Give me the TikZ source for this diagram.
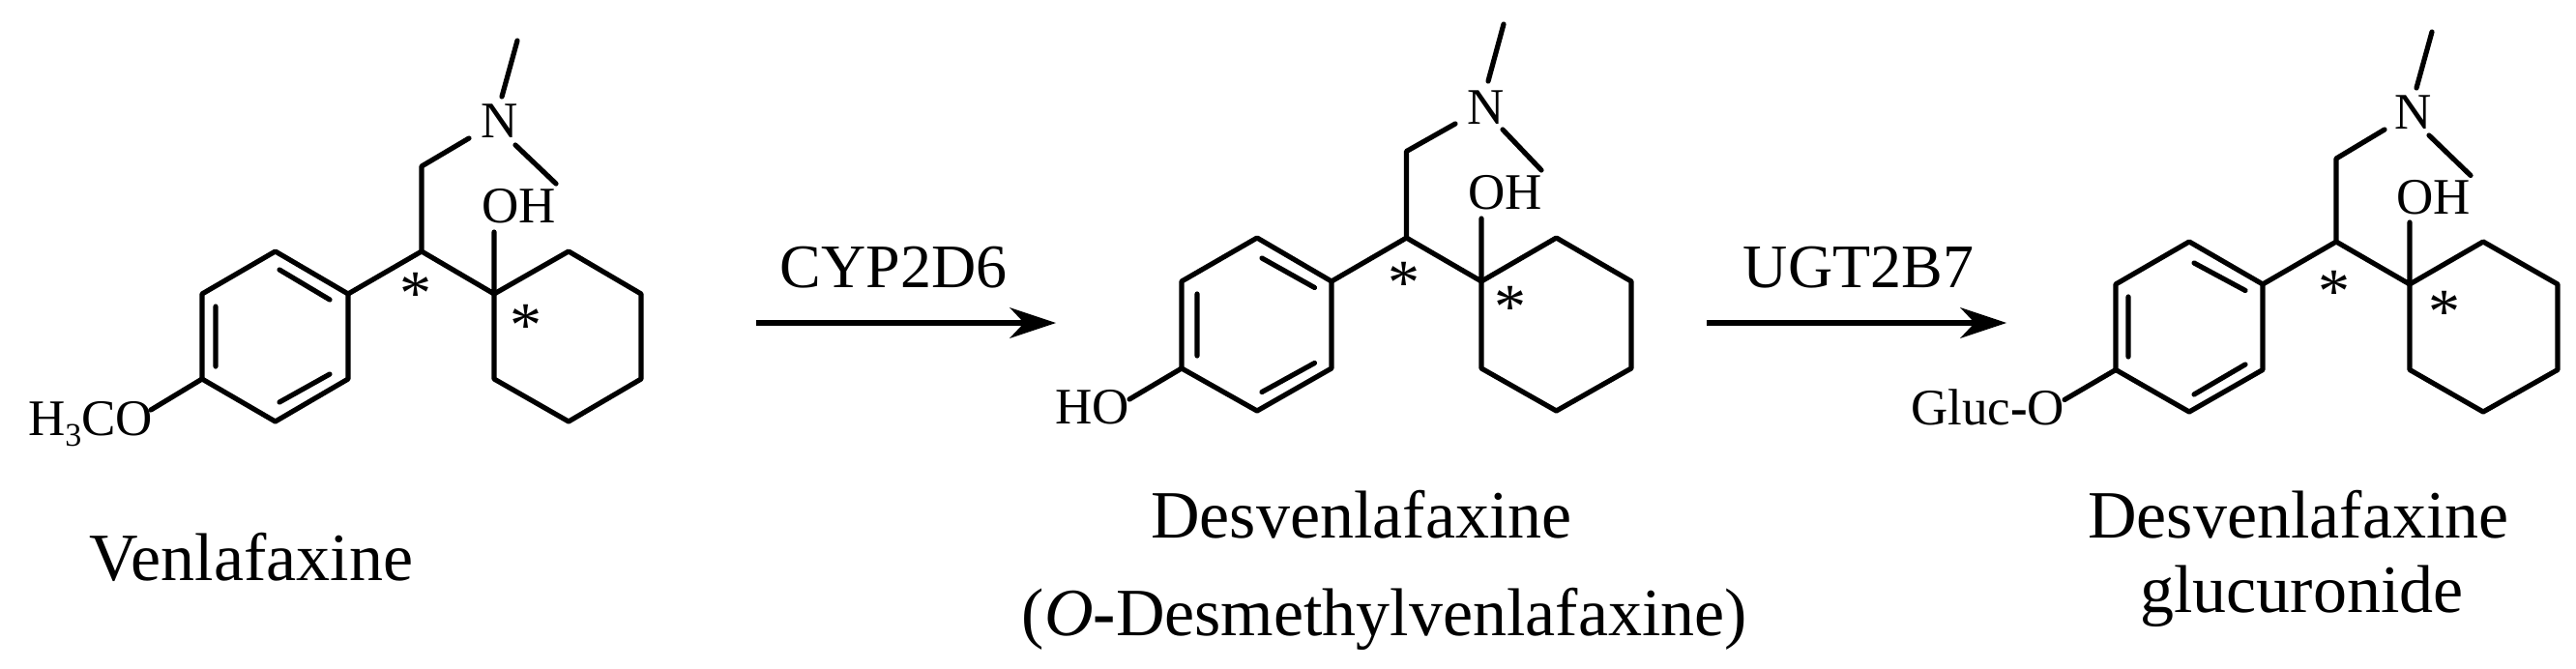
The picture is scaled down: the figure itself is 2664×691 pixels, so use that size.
\documentclass[tikz,border=0pt]{standalone}
\usepackage{fontspec}
\setmainfont{Liberation Serif}
\usetikzlibrary{arrows.meta}
\tikzset{
  bond/.style={line width=5.2pt,line cap=round,line join=round,black},
  atomtext/.style={inner sep=0pt,outer sep=0pt,anchor=base west,font=\fontsize{53}{53}\selectfont},
  startext/.style={inner sep=0pt,outer sep=0pt,font=\fontsize{66}{66}\selectfont},
  nametext/.style={inner sep=0pt,outer sep=0pt,anchor=base,font=\fontsize{70}{70}\selectfont},
  enzymetext/.style={inner sep=0pt,outer sep=0pt,anchor=base,font=\fontsize{64}{64}\selectfont},
  reaction/.style={line width=5.2pt,-{Stealth[length=48pt,width=32pt,inset=15pt,line width=0pt]}},
}
\begin{document}
\begin{tikzpicture}[x=1pt,y=-1pt]
\useasboundingbox (0,0) rectangle (2664,691);
\fill[white] (0,0) rectangle (2664,691);

% ---------- Venlafaxine
\coordinate (a1) at (284.7,260); \coordinate (a2) at (360,304); \coordinate (a3) at (360,392);
\coordinate (a4) at (284.7,436); \coordinate (a5) at (209,392); \coordinate (a6) at (209,304);
\coordinate (ac) at (436,260); \coordinate (aq) at (511,304); \coordinate (am) at (436,172);
\coordinate (an1) at (485,143); \coordinate (an2) at (533,150); \coordinate (an3) at (575,190);
\coordinate (an4) at (519,100); \coordinate (an5) at (535,42); \coordinate (aoh) at (511,240);
\coordinate (r1) at (588,260); \coordinate (r2) at (663,304); \coordinate (r3) at (663,392);
\coordinate (r4) at (588,436); \coordinate (r5) at (511,392); \coordinate (ao) at (156,424);
\coordinate (ad1) at (289,279); \coordinate (ad2) at (341,310); \coordinate (ad3) at (223,317);
\coordinate (ad4) at (223,379); \coordinate (ad5) at (289,416); \coordinate (ad6) at (341,387);
\draw[bond] (a1)--(a2)--(a3)--(a4)--(a5)--(a6)--cycle;
\draw[bond] (ad1)--(ad2) (ad3)--(ad4) (ad5)--(ad6);
\draw[bond] (a2)--(ac)--(aq) (ac)--(am)--(an1) (an2)--(an3) (an4)--(an5) (aq)--(aoh) (a5)--(ao);
\draw[bond] (aq)--(r1)--(r2)--(r3)--(r4)--(r5)--cycle;
\node[atomtext] (aN) at (497.5,142) {N};
\node[atomtext] (aOH) at (498,230) {OH};
\node[atomtext] (aMeO) at (29,450) {H\raisebox{-0.22em}{\fontsize{34}{34}\selectfont 3}CO};
\node[startext] (as1) at (430,304) {*};
\node[startext] (as2) at (544,337) {*};
\node[nametext] (aname) at (260,600) {Venlafaxine};

% ---------- Arrow 1
\node[enzymetext] (e1) at (924,297.5) {CYP2D6};
\coordinate (p1) at (782,334); \coordinate (p2) at (1092,334);
\draw[reaction] (p1)--(p2);

% ---------- Desvenlafaxine
\coordinate (b1) at (1300,246); \coordinate (b2) at (1377,291); \coordinate (b3) at (1377,381);
\coordinate (b4) at (1300,425); \coordinate (b5) at (1222,381); \coordinate (b6) at (1222,291);
\coordinate (bc) at (1454.5,246); \coordinate (bq) at (1532,291); \coordinate (bm) at (1454.5,156.5);
\coordinate (bn1) at (1505,128); \coordinate (bn2) at (1554,134); \coordinate (bn3) at (1594,176);
\coordinate (bn4) at (1539,84); \coordinate (bn5) at (1555,25); \coordinate (boh) at (1532,226);
\coordinate (s1) at (1609.5,246); \coordinate (s2) at (1687,291); \coordinate (s3) at (1687,381);
\coordinate (s4) at (1609.5,425); \coordinate (s5) at (1532,381); \coordinate (bo) at (1168,413);
\coordinate (bd1) at (1305,267); \coordinate (bd2) at (1359.5,297.5); \coordinate (bd3) at (1238,304);
\coordinate (bd4) at (1238,368); \coordinate (bd5) at (1305,405.5); \coordinate (bd6) at (1359.5,375.5);
\draw[bond] (b1)--(b2)--(b3)--(b4)--(b5)--(b6)--cycle;
\draw[bond] (bd1)--(bd2) (bd3)--(bd4) (bd5)--(bd6);
\draw[bond] (b2)--(bc)--(bq) (bc)--(bm)--(bn1) (bn2)--(bn3) (bn4)--(bn5) (bq)--(boh) (b5)--(bo);
\draw[bond] (bq)--(s1)--(s2)--(s3)--(s4)--(s5)--cycle;
\node[atomtext] (bN) at (1517,128) {N};
\node[atomtext] (bOH) at (1518,216) {OH};
\node[atomtext] (bHO) at (1091,438.5) {HO};
\node[startext] (bs1) at (1452,293) {*};
\node[startext] (bs2) at (1562,318) {*};
\node[nametext] (bname) at (1408,556) {Desvenlafaxine};
\node[nametext] (bname2) at (1432,657.5) {(\textit{O}\textbf{-}Desmethylvenlafaxine)};

% ---------- Arrow 2
\node[enzymetext] (e2) at (1922,297.5) {UGT2B7};
\coordinate (q1) at (1765,334); \coordinate (q2) at (2075,334);
\draw[reaction] (q1)--(q2);

% ---------- Desvenlafaxine glucuronide
\coordinate (c1) at (2264,250); \coordinate (c2) at (2340,294); \coordinate (c3) at (2340,382.5);
\coordinate (c4) at (2264,426); \coordinate (c5) at (2188,382.5); \coordinate (c6) at (2188,294);
\coordinate (cc) at (2416,250); \coordinate (cq) at (2492,294); \coordinate (cm) at (2416,164);
\coordinate (cn1) at (2466,134); \coordinate (cn2) at (2512,140); \coordinate (cn3) at (2555,181.5);
\coordinate (cn4) at (2499,91); \coordinate (cn5) at (2515,33); \coordinate (coh) at (2492,230);
\coordinate (t1) at (2568,250); \coordinate (t2) at (2645,294); \coordinate (t3) at (2645,382.5);
\coordinate (t4) at (2568,426); \coordinate (t5) at (2492,382.5); \coordinate (co) at (2135,413.5);
\coordinate (cd1) at (2269,272); \coordinate (cd2) at (2322,300.5); \coordinate (cd3) at (2201,307);
\coordinate (cd4) at (2201,369); \coordinate (cd5) at (2269,408); \coordinate (cd6) at (2322,377);
\draw[bond] (c1)--(c2)--(c3)--(c4)--(c5)--(c6)--cycle;
\draw[bond] (cd1)--(cd2) (cd3)--(cd4) (cd5)--(cd6);
\draw[bond] (c2)--(cc)--(cq) (cc)--(cm)--(cn1) (cn2)--(cn3) (cn4)--(cn5) (cq)--(coh) (c5)--(co);
\draw[bond] (cq)--(t1)--(t2)--(t3)--(t4)--(t5)--cycle;
\node[atomtext] (cN) at (2476.5,133) {N};
\node[atomtext] (cOH) at (2478,221) {OH};
\node[atomtext] (cGl) at (1976,439.5) {Gluc\textbf{-}O};
\node[startext] (cs1) at (2414,301.5) {*};
\node[startext] (cs2) at (2528,323) {*};
\node[nametext] (cname) at (2377,556) {Desvenlafaxine};
\node[nametext] (cname2) at (2380.5,633) {glucuronide};
\end{tikzpicture}
\end{document}
